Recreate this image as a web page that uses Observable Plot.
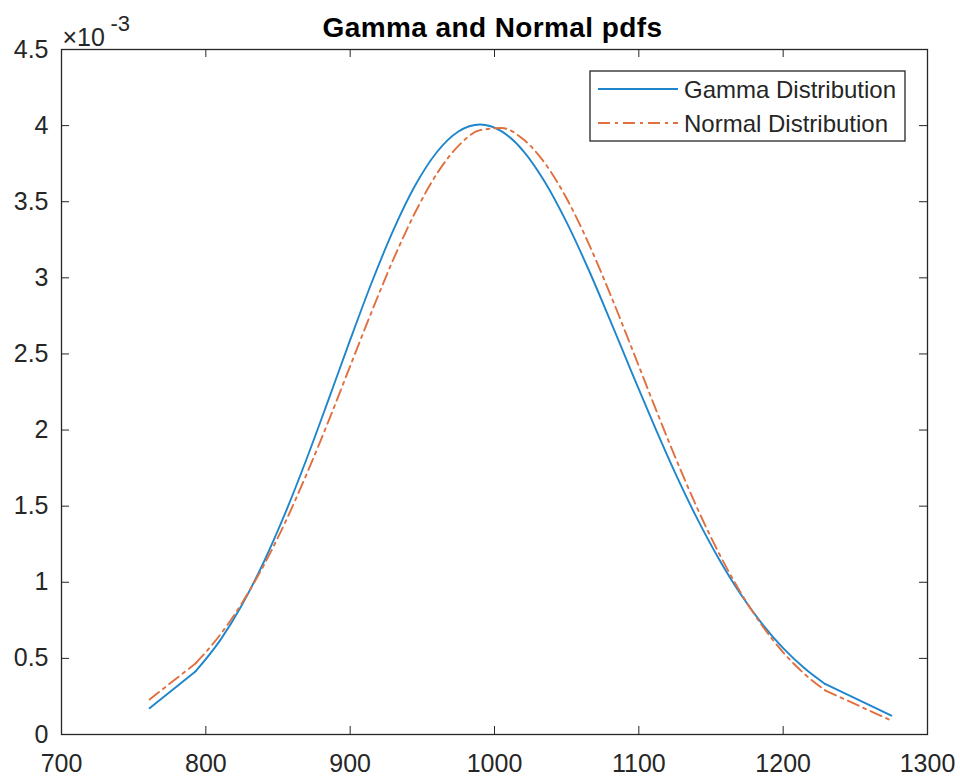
<!DOCTYPE html>
<html><head><meta charset="utf-8">
<script src="https://cdn.jsdelivr.net/npm/d3@7"></script>
<script src="https://cdn.jsdelivr.net/npm/@observablehq/plot@0.6"></script>
<style>
body{margin:0;background:#fff;}
svg{display:block}
</style>
</head><body><div id="chart"></div>
<script>
// Sample points (x) and pdf values (in units of 1e-3)
const xValues = [761, 793, 810, 825, 840, 855, 870, 885, 900, 915, 930, 945, 960, 975, 990, 1005, 1020, 1035, 1050, 1065, 1080, 1095, 1110, 1125, 1140, 1155, 1170, 1185, 1200, 1215, 1229, 1275];
const gammaValues = [0.173, 0.416, 0.620, 0.851, 1.130, 1.454, 1.815, 2.200, 2.592, 2.971, 3.315, 3.606, 3.825, 3.961, 4.007, 3.962, 3.833, 3.628, 3.364, 3.058, 2.724, 2.381, 2.044, 1.722, 1.426, 1.161, 0.929, 0.732, 0.567, 0.433, 0.332, 0.124];
const normalValues = [0.230, 0.468, 0.656, 0.863, 1.109, 1.394, 1.714, 2.059, 2.420, 2.780, 3.123, 3.429, 3.683, 3.867, 3.970, 3.984, 3.910, 3.752, 3.521, 3.230, 2.897, 2.541, 2.179, 1.827, 1.497, 1.200, 0.941, 0.721, 0.540, 0.396, 0.290, 0.091];
const xTicks = [700, 800, 900, 1000, 1100, 1200, 1300];
const yTicks = [0, 0.5, 1, 1.5, 2, 2.5, 3, 3.5, 4, 4.5];
const seriesNames = ["Gamma Distribution", "Normal Distribution"];
const titleText = "Gamma and Normal pdfs";
const exponentBase = "\u00d710";
const exponentPower = "-3";

const W = 960, H = 776, mL = 61, mR = 33, mT = 49, mB = 42;
const fw = W - mL - mR, fh = H - mT - mB;
const font = "'Liberation Sans', Arial, Helvetica, sans-serif";
const ink = "#262626";
const blue = "#1f86cc", orange = "#e0703f";
const dash = "12,5,3,5";
const lineW = 1.9;

function rows(values) {
  return xValues.map((x, i) => ({x, y: values[i]}));
}
// the two outer segments at each end are straight; the dense middle is smooth
function middle(values) { return rows(values).slice(1, -1); }
function ends(values) {
  const r = rows(values), n = r.length;
  return [{...r[0], s: 0}, {...r[1], s: 0}, {...r[n - 2], s: 1}, {...r[n - 1], s: 1}];
}

const chart = Plot.plot({
  width: W, height: H,
  marginLeft: mL, marginRight: mR, marginTop: mT, marginBottom: mB,
  style: {fontFamily: font, background: "#fff", overflow: "visible"},
  x: {domain: [700, 1300], label: null, axis: null},
  y: {domain: [0, 4.5], label: null, axis: null},
  marks: [
    Plot.line(middle(gammaValues), {x: "x", y: "y", stroke: blue, strokeWidth: lineW, curve: "monotone-x"}),
    Plot.line(ends(gammaValues), {x: "x", y: "y", z: "s", stroke: blue, strokeWidth: lineW}),
    Plot.line(middle(normalValues), {x: "x", y: "y", stroke: orange, strokeWidth: lineW, strokeDasharray: dash, curve: "monotone-x"}),
    Plot.line(ends(normalValues), {x: "x", y: "y", z: "s", stroke: orange, strokeWidth: lineW, strokeDasharray: dash}),
    Plot.tickX(xTicks, {x: d => d, insetTop: fh - 8, stroke: ink}),
    Plot.tickX(xTicks, {x: d => d, insetBottom: fh - 8, stroke: ink}),
    Plot.tickY(yTicks, {y: d => d, insetRight: fw - 8, stroke: ink}),
    Plot.tickY(yTicks, {y: d => d, insetLeft: fw - 8, stroke: ink}),
    Plot.axisX(xTicks, {tickSize: 0, tickPadding: 20, fontSize: 25, color: ink, tickFormat: d => String(d), label: null}),
    Plot.axisY(yTicks, {tickSize: 0, tickPadding: 13, fontSize: 25, color: ink, tickFormat: d => String(d), label: null}),
    Plot.frame({stroke: ink, strokeWidth: 1.3}),
    Plot.text([titleText], {frameAnchor: "top", text: d => d, lineAnchor: "bottom", dy: -13, fontSize: 28, fontWeight: "bold", fill: "#000", dx: -2}),
    Plot.text([exponentBase], {frameAnchor: "top-left", text: d => d, textAnchor: "start", lineAnchor: "bottom", dy: -4, dx: 1, fontSize: 25, fill: ink}),
    Plot.text([exponentPower], {frameAnchor: "top-left", text: d => d, textAnchor: "start", lineAnchor: "bottom", dx: 49, dy: -19, fontSize: 22, fill: ink})
  ]
});
d3.select(chart).selectAll("text").filter(function() { return this.textContent === titleText; })
  .style("letter-spacing", "0.4px");

// Legend (MATLAB-style box, top-right inside the axes)
const svg = d3.select(chart);
const lg = svg.append("g").attr("font-family", font).attr("text-anchor", "start");
const lx = 590, ly = 71, lw = 315, lh = 70;
lg.append("rect").attr("x", lx).attr("y", ly).attr("width", lw).attr("height", lh)
  .attr("fill", "#fff").attr("stroke", ink).attr("stroke-width", 1.3);
const styles = [{stroke: blue, dash: null}, {stroke: orange, dash: dash}];
seriesNames.forEach((name, i) => {
  const cy = ly + 18 + i * 34;
  lg.append("line").attr("x1", lx + 8).attr("x2", lx + 88).attr("y1", cy).attr("y2", cy)
    .attr("stroke", styles[i].stroke).attr("stroke-width", lineW)
    .attr("stroke-dasharray", styles[i].dash);
  lg.append("text").attr("x", lx + 94).attr("y", cy).attr("dy", "0.36em")
    .attr("font-size", 24).attr("fill", ink).text(name);
});

document.getElementById("chart").appendChild(chart);
</script>
</body></html>
